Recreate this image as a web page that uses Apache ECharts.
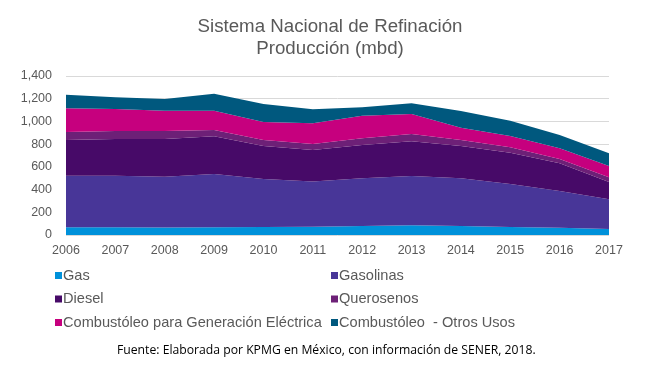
<!DOCTYPE html>
<html>
<head>
<meta charset="utf-8">
<script src="https://cdn.jsdelivr.net/npm/echarts@6/dist/echarts.min.js"></script>
<style>html,body{margin:0;padding:0;background:#fff;}#c{width:662px;height:374px;}</style>
</head>
<body>
<div id="c"></div>
<script>
const years = ['2006','2007','2008','2009','2010','2011','2012','2013','2014','2015','2016','2017'];
const gas = [68,68,66,68,70,72,79,85,79,70,64,53];
const gasolinas = [454,454,447,469,423,398,420,434,420,379,323,261];
const diesel = [314,323,332,332,291,278,293,306,285,276,244,153];
const querosenos = [71,71,71,56,52,53,59,64,52,47,38,41];
const combGE = [208,193,179,170,159,182,200,176,109,100,94,99];
const combOtros = [121,103,102,149,158,124,73,94,147,134,117,112];
const yTicks = [0,200,400,600,800,1000,1200,1400];

const names = ['Gas','Gasolinas','Diesel','Querosenos','Combustóleo para Generación Eléctrica','Combustóleo  - Otros Usos'];
const colors = ['#0091DA','#483698','#470A68','#6D2077','#C6007E','#00587E'];
const values = [gas,gasolinas,diesel,querosenos,combGE,combOtros];

const chart = echarts.init(document.getElementById('c'), null, {renderer:'canvas'});
const series = names.map((n,i)=>({
  name:n, type:'line', stack:'total', data:values[i],
  showSymbol:false, symbol:'none',
  lineStyle:{width:0}, areaStyle:{color:colors[i], opacity:1},
  itemStyle:{color:colors[i]}
}));
const legendText = {fontFamily:'Liberation Sans, Arial', fontSize:14.6, color:'#595959', lineHeight:15, padding:[0,0,0,-4]};
chart.setOption({
  animation:false,
  backgroundColor:'#fff',
  title:{
    text:'Sistema Nacional de Refinación\nProducción (mbd)',
    left:325, top:11, textAlign:'center',
    textStyle:{fontFamily:'Liberation Sans, Arial', fontSize:18.7, fontWeight:'normal', color:'#595959', lineHeight:22}
  },
  legend:[
    {data:[names[0],names[2],names[4]], orient:'vertical', left:55, top:268,
     itemWidth:7, itemHeight:7, itemGap:8.5, icon:'rect', textStyle:legendText, padding:0},
    {data:[names[1],names[3],names[5]], orient:'vertical', left:331, top:268,
     itemWidth:7, itemHeight:7, itemGap:8.5, icon:'rect', textStyle:legendText, padding:0}
  ],
  grid:{left:66, right:53, top:76, bottom:139, containLabel:false},
  xAxis:{
    type:'category', data:years, boundaryGap:false,
    axisLine:{show:false}, axisTick:{show:false},
    axisLabel:{fontFamily:'Liberation Sans, Arial', fontSize:12.5, color:'#595959', margin:9}
  },
  yAxis:{
    type:'value', min:0, max:1400, interval:200,
    axisLine:{show:false}, axisTick:{show:false},
    axisLabel:{fontFamily:'Liberation Sans, Arial', fontSize:12.5, color:'#595959', margin:14,
      formatter:v=>yTicks.includes(v)?v.toLocaleString('en-US'):''},
    splitLine:{lineStyle:{color:'#D9D9D9', width:1}}
  },
  series:series,
  graphic:[{
    type:'text', left:117, top:345,
    style:{text:'Fuente: Elaborada por KPMG en México, con información de SENER, 2018.',
      fontFamily:'Open Sans', fontSize:12.2, fill:'#000'}
  }]
});
</script>
</body>
</html>
